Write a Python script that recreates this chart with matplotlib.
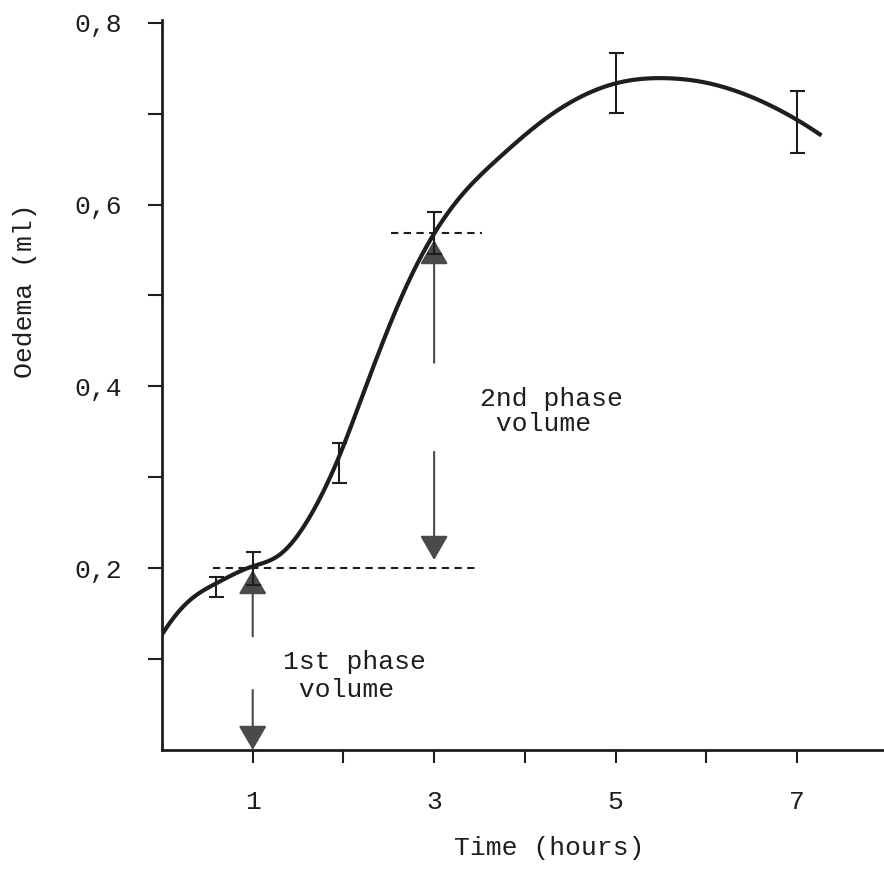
# -*- coding:utf-8 -*-
import numpy as np
import matplotlib
matplotlib.use('Agg')
import matplotlib.pyplot as plt

# measured oedema volumes (ml) with spread
times = [0.6, 1.0, 1.95, 3.0, 5.0, 7.0]
oedema = [0.179, 0.200, 0.316, 0.569, 0.734, 0.691]
spread = [0.011, 0.018, 0.022, 0.023, 0.033, 0.034]

# hand-fitted curve through the readings
curve_t = [0.0, 0.31, 0.61, 0.97, 1.30, 1.62, 1.97, 2.20, 2.50, 2.75,
           3.00, 3.26, 3.70, 4.25, 5.03, 5.55, 6.00, 6.60, 7.27]
curve_v = [0.127, 0.165, 0.184, 0.201, 0.215, 0.255, 0.327, 0.387, 0.465, 0.522,
           0.568, 0.605, 0.650, 0.696, 0.734, 0.739, 0.734, 0.714, 0.676]

# end of 1st phase (1 h) and of 2nd phase (3 h)
phase_times = [1.0, 3.0]
phase_levels = [0.200, 0.569]

x_ticks = [1, 2, 3, 4, 5, 6, 7]
x_labels = ['1', '', '3', '', '5', '', '7']
y_ticks = [0.1, 0.2, 0.3, 0.4, 0.5, 0.6, 0.7, 0.8]
y_labels = ['', '0,2', '', '0,4', '', '0,6', '', '0,8']

INK = '#1e1e1e'
HEAD = '#4a4a4a'
FONT = 'Liberation Mono'


def spline(xs, ys, n=600):
    # cubic spline, end curvature copied from the neighbour knot
    x = np.asarray(xs, float)
    y = np.asarray(ys, float)
    h = np.diff(x)
    k = len(x)
    A = np.zeros((k, k))
    b = np.zeros(k)
    A[0, 0] = A[-1, -1] = 1
    A[0, 1] = A[-1, -2] = -1
    for i in range(1, k - 1):
        A[i, i - 1] = h[i - 1]
        A[i, i] = 2 * (h[i - 1] + h[i])
        A[i, i + 1] = h[i]
        b[i] = 6 * ((y[i + 1] - y[i]) / h[i] - (y[i] - y[i - 1]) / h[i - 1])
    m = np.linalg.solve(A, b)
    xx = np.linspace(x[0], x[-1], n)
    j = np.clip(np.searchsorted(x, xx) - 1, 0, k - 2)
    dx = xx - x[j]
    hj = h[j]
    c1 = (y[j + 1] - y[j]) / hj - hj * (2 * m[j] + m[j + 1]) / 6
    yy = y[j] + c1 * dx + m[j] / 2 * dx ** 2 + (m[j + 1] - m[j]) / (6 * hj) * dx ** 3
    return xx, yy


def arrow(ax, x, y0, y1):
    ax.annotate('', xy=(x, y1), xytext=(x, y0),
                arrowprops=dict(arrowstyle='-|>,head_length=0.95,head_width=0.55',
                                mutation_scale=16, lw=1.5, color=INK,
                                fc=HEAD, ec=HEAD, shrinkA=0, shrinkB=0))


fig = plt.figure(figsize=(8.84, 8.74), dpi=100)
ax = fig.add_axes([162 / 884, 124 / 874, 722 / 884, 730 / 874])

cx, cy = spline(curve_t, curve_v)
ax.plot(cx, cy, color=INK, lw=3, solid_capstyle='butt', zorder=3)

ax.errorbar(times, oedema, yerr=spread, fmt='none', ecolor=INK,
            elinewidth=1.5, capsize=5.4, capthick=1.5, zorder=4)

# dashed guide levels
ax.plot([0.56, 3.5], [phase_levels[0]] * 2, color=INK, lw=1.5,
        linestyle=(0, (3.5, 2.6)), zorder=2)
ax.plot([2.52, 3.53], [phase_levels[1]] * 2, color=INK, lw=1.5,
        linestyle=(0, (3.5, 2.6)), zorder=2)

# phase volume arrows
arrow(ax, phase_times[0], 0.125, phase_levels[0] - 0.002)
arrow(ax, phase_times[0], 0.066, 0.0)
arrow(ax, phase_times[1], 0.426, phase_levels[1] - 0.008)
arrow(ax, phase_times[1], 0.328, phase_levels[0] + 0.009)

ax.text(1.337, 0.081, '1st phase\n volume', fontsize=19, family=FONT,
        color=INK, ha='left', va='center', linespacing=1.22)
ax.text(3.51, 0.372, '2nd phase\n volume', fontsize=19, family=FONT,
        color=INK, ha='left', va='center', linespacing=1.07)

ax.set_xlim(0, 7.96)
ax.set_ylim(0, 0.803)
ax.set_xticks(x_ticks)
ax.set_xticklabels(x_labels, family=FONT, fontsize=19, color=INK)
ax.set_yticks(y_ticks)
ax.set_yticklabels(y_labels, family=FONT, fontsize=19, color=INK)
ax.tick_params(axis='y', length=10, width=1.5, pad=19, color=INK)
ax.tick_params(axis='x', length=9, width=1.5, pad=20, color=INK)

for s in ['top', 'right']:
    ax.spines[s].set_visible(False)
for s in ['left', 'bottom']:
    ax.spines[s].set_linewidth(2)
    ax.spines[s].set_color(INK)

ax.set_xlabel('Time (hours)', family=FONT, fontsize=19, color=INK, va='center')
ax.xaxis.set_label_coords(0.536, -0.134)
ax.set_ylabel('Oedema (ml)', family=FONT, fontsize=19, color=INK, va='center')
ax.yaxis.set_label_coords(-0.19, 0.629)

fig.savefig('out.png', dpi=100, facecolor='white')
